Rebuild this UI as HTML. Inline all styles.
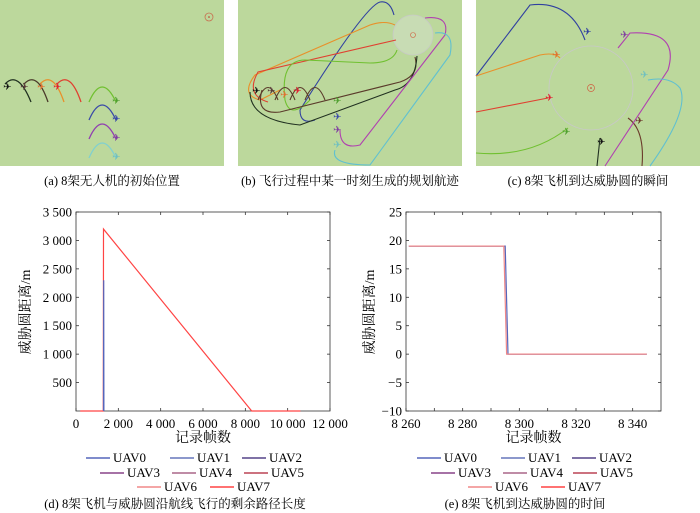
<!DOCTYPE html>
<html><head><meta charset="utf-8"><style>
body{margin:0;background:#fff;}
svg{display:block;font-family:"Liberation Serif","Noto Serif CJK SC",serif;}
</style></head><body>
<svg id="root" width="700" height="513" viewBox="0 0 700 513" xmlns="http://www.w3.org/2000/svg">
<g>
<rect x="0" y="0" width="224" height="166" fill="#bcd89c"/>
<circle cx="209" cy="17" r="4" fill="none" stroke="#c87050" stroke-width="0.8"/><circle cx="209" cy="17" r="0.8" fill="#c03020"/>
<g fill="none" stroke-width="1.3">
<path d="M5 84 Q18 70 31 102" stroke="#203020"/>
<path d="M24 84 Q37 70 48 102" stroke="#4a3a2a"/>
<path d="M40 84 Q53 70 64 102" stroke="#e8902a"/>
<path d="M57 84 Q70 70 81 102" stroke="#e04030"/>
<path d="M89 102 Q102 72 116 102" stroke="#70c030"/>
<path d="M89 120 Q102 90 116 120" stroke="#3a4aa8"/>
<path d="M89 139 Q102 109 116 139" stroke="#9040b0"/>
<path d="M89 158 Q102 128 116 158" stroke="#80d0d0"/>
</g>
<g font-size="10" font-family="DejaVu Sans,sans-serif">
<text x="3" y="90" fill="#111">✈</text><text x="20" y="90" fill="#5a3a3a">✈</text><text x="37" y="90" fill="#e07030">✈</text><text x="53" y="90" fill="#e02030">✈</text>
<text x="112" y="104" fill="#50a030">✈</text><text x="112" y="122" fill="#3a4aa8">✈</text><text x="112" y="141" fill="#8040a0">✈</text><text x="112" y="160" fill="#70c0c0">✈</text>
</g>
</g>
<text x="112" y="185" font-size="12.5" text-anchor="middle">(a) 8架无人机的初始位置</text>
<g>
<rect x="238" y="0" width="224" height="166" fill="#bcd89c"/>
<circle cx="413" cy="35" r="20" fill="#c8dcb4" stroke="#c8c8c8" stroke-width="0.8"/>
<circle cx="413" cy="35" r="2.5" fill="none" stroke="#d06040" stroke-width="0.6"/>
<g fill="none" stroke-width="1.1">
<path d="M394 15 Q390 0 380 2 Q365 6 300 110 Q300 125 315 120" stroke="#3040a0"/>
<path d="M395 25 Q385 20 370 25 L255 75 Q240 95 260 100 L280 90" stroke="#e8902a"/>
<path d="M396 40 L258 72 Q245 95 268 102" stroke="#e04030"/>
<path d="M397 50 Q393 63 370 63 L305 60 Q280 60 285 100 Q290 120 310 100" stroke="#70c030"/>
<path d="M415 57 Q420 75 400 82 L280 112 Q255 115 262 90" stroke="#5a3a2a"/>
<path d="M417 56 Q415 85 395 90 L300 125 Q250 120 250 92" stroke="#203020"/>
<path d="M425 18 Q450 15 445 35 L360 145 Q340 150 340 130" stroke="#b040b0"/>
<path d="M435 33 Q455 30 450 55 L370 165 Q330 165 335 150" stroke="#60c0d0"/>
<path d="M258 100 Q268 75 278 100 M275 100 Q285 75 295 100 M290 100 Q300 75 310 100 M305 100 Q315 75 325 100" stroke="#5a3a2a"/>
</g>
<g font-size="10" font-family="DejaVu Sans,sans-serif">
<text x="252" y="94" fill="#111">✈</text><text x="267" y="94" fill="#5a3a3a">✈</text><text x="280" y="98" fill="#e07030">✈</text><text x="293" y="94" fill="#e02030">✈</text>
<text x="333" y="104" fill="#50a030">✈</text><text x="333" y="120" fill="#3a4aa8">✈</text><text x="333" y="133" fill="#8040a0">✈</text><text x="333" y="148" fill="#70c0c0">✈</text>
</g>
</g>
<text x="350" y="185" font-size="12.5" text-anchor="middle">(b) 飞行过程中某一时刻生成的规划航迹</text>
<g>
<rect x="476" y="0" width="224" height="166" fill="#bcd89c"/>
<circle cx="591" cy="88" r="42" fill="none" stroke="#c8c8c8" stroke-width="0.8"/>
<circle cx="591" cy="88" r="3.5" fill="none" stroke="#d06040" stroke-width="0.7"/><circle cx="591" cy="88" r="0.8" fill="#c03020"/>
<g fill="none" stroke-width="1.1">
<path d="M476 76 L530 5 Q570 0 585 40" stroke="#3040a0"/>
<path d="M476 76 L540 55 Q555 52 560 58" stroke="#e8902a"/>
<path d="M476 112 L548 98" stroke="#e04030"/>
<path d="M476 153 Q530 158 568 128" stroke="#70c030"/>
<path d="M597 166 L600 138" stroke="#203020"/>
<path d="M642 166 Q645 130 628 118" stroke="#6a3a2a"/>
<path d="M605 166 L668 70 Q680 30 630 33 L618 48" stroke="#b040b0"/>
<path d="M650 166 Q690 110 680 88 Q670 76 648 80" stroke="#60c0d0"/>
</g>
<g font-size="10" font-family="DejaVu Sans,sans-serif">
<text x="583" y="35" fill="#3040a0">✈</text><text x="552" y="58" fill="#e07030">✈</text><text x="545" y="101" fill="#e02030">✈</text><text x="562" y="135" fill="#50a030">✈</text>
<text x="597" y="145" fill="#111">✈</text><text x="635" y="124" fill="#6a3a2a">✈</text><text x="620" y="38" fill="#8040a0">✈</text><text x="640" y="78" fill="#70c0c0">✈</text>
</g>
</g>
<text x="588" y="185" font-size="12.5" text-anchor="middle">(c) 8架飞机到达威胁圆的瞬间</text>
<g id="chartD"></g>
<g id="chartE"></g>
<text x="175" y="508" font-size="12.5" text-anchor="middle">(d) 8架飞机与威胁圆沿航线飞行的剩余路径长度</text>
<text x="525" y="508" font-size="12.5" text-anchor="middle">(e) 8架飞机到达威胁圆的时间</text>
</svg>
<script>
const seriesNames=["UAV0","UAV1","UAV2","UAV3","UAV4","UAV5","UAV6","UAV7"];
const seriesColors=["#5566bb","#6677bb","#554488","#884488","#aa6688","#bb4455","#f08888","#ff4444"];
const dXTicks=[0,2000,4000,6000,8000,10000,12000];
const dXTickLabels=["0","2 000","4 000","6 000","8 000","10 000","12 000"];
const dYTicks=[500,1000,1500,2000,2500,3000,3500];
const dYTickLabels=["500","1 000","1 500","2 000","2 500","3 000","3 500"];
const dFramesBlue=[1300,1310,1320];
const dValsBlue=[0,2300,0];
const dFramesRed=[200,1290,1300,8300,8320,10600];
const dValsRed=[0,0,3200,0,0,0];
const eXTicks=[8260,8280,8300,8320,8340];
const eXTickLabels=["8 260","8 280","8 300","8 320","8 340"];
const eYTicks=[-10,-5,0,5,10,15,20,25];
const eYTickLabels=["−10","−5","0","5","10","15","20","25"];
const eFramesBlue=[8261,8295,8296,8345];
const eValsBlue=[19,19,0,0];
const eFramesRed=[8261,8294.5,8295.5,8345];
const eValsRed=[19,19,0,0];
const NS="http://www.w3.org/2000/svg";
function mk(parent,tag,attrs,txt){const e=document.createElementNS(NS,tag);for(const k in attrs)e.setAttribute(k,attrs[k]);if(txt!==undefined)e.textContent=txt;parent.appendChild(e);return e;}
function chart(g,cfg){
  const L=cfg.L,R=cfg.R,T=212,B=411;
  const sx=v=>L+(v-cfg.x0)/(cfg.x1-cfg.x0)*(R-L);
  const sy=v=>B-(v-cfg.y0)/(cfg.y1-cfg.y0)*(B-T);
  const frame=mk(g,'rect',{x:L,y:T,width:R-L,height:B-T,fill:'none',stroke:'#333','stroke-width':0.8});
  
  
  cfg.xt.forEach((v,i)=>{const x=sx(v);
    mk(g,'line',{x1:x,x2:x,y1:B,y2:B-3,stroke:'#333','stroke-width':0.8});
    mk(g,'line',{x1:x,x2:x,y1:T,y2:T+3,stroke:'#333','stroke-width':0.8});
    if(cfg.minorX){const xm=sx(v+cfg.minorX);if(xm<R){mk(g,'line',{x1:xm,x2:xm,y1:B,y2:B-3,stroke:'#333','stroke-width':0.8});mk(g,'line',{x1:xm,x2:xm,y1:T,y2:T+3,stroke:'#333','stroke-width':0.8});}}
    const t=mk(g,'text',{x:x,y:B+17,'font-size':13,'text-anchor':'middle'},cfg.xl[i]);
    
    });
  cfg.yt.forEach((v,i)=>{const y=sy(v);
    mk(g,'line',{x1:L,x2:L+3,y1:y,y2:y,stroke:'#333','stroke-width':0.8});
    mk(g,'line',{x1:R,x2:R-3,y1:y,y2:y,stroke:'#333','stroke-width':0.8});
    const t=mk(g,'text',{x:L-4,y:y+4.5,'font-size':13,'text-anchor':'end'},cfg.yl[i]);
    
    });
  const xt=mk(g,'text',{x:(L+R)/2,y:442,'font-size':14,'text-anchor':'middle'},'记录帧数');
  
  
  const yt=mk(g,'text',{x:0,y:0,'font-size':14,'text-anchor':'middle',transform:`translate(${cfg.yTitleX},312) rotate(-90)`},'威胁圆距离/m');
  
  
  cfg.series.forEach(s=>{
    const p=mk(g,'polyline',{points:s.xs.map((x,i)=>sx(x).toFixed(1)+','+sy(s.ys[i]).toFixed(1)).join(' '),fill:'none',stroke:s.c,'stroke-width':1.2});
    
    });
  seriesNames.forEach((n,i)=>{const pos=cfg.leg[i];
    mk(g,'line',{x1:pos[0],x2:pos[0]+24,y1:pos[1]-4,y2:pos[1]-4,stroke:seriesColors[i],'stroke-width':1.5});
    const t=mk(g,'text',{x:pos[0]+27,y:pos[1],'font-size':13},n);
    
    });
}
chart(document.getElementById('chartD'),{L:76,R:330,x0:0,x1:12000,y0:0,y1:3500,xt:dXTicks,xl:dXTickLabels,yt:dYTicks,yl:dYTickLabels,yTitleX:30,
  series:[{xs:dFramesRed,ys:dValsRed,c:seriesColors[7]},{xs:dFramesBlue,ys:dValsBlue,c:seriesColors[0]}],
  leg:[[86,462],[170,462],[242,462],[100,477],[172,477],[244,477],[137,491],[210,491]]});
chart(document.getElementById('chartE'),{L:406,R:661,x0:8260,x1:8350,y0:-10,y1:25,xt:eXTicks,xl:eXTickLabels,yt:eYTicks,yl:eYTickLabels,yTitleX:374,minorX:10,
  series:[{xs:eFramesBlue,ys:eValsBlue,c:seriesColors[0]},{xs:eFramesRed,ys:eValsRed,c:seriesColors[6]}],
  leg:[[417,462],[501,462],[572,462],[431,477],[503,477],[573,477],[468,491],[541,491]]});
</script>
</body></html>
